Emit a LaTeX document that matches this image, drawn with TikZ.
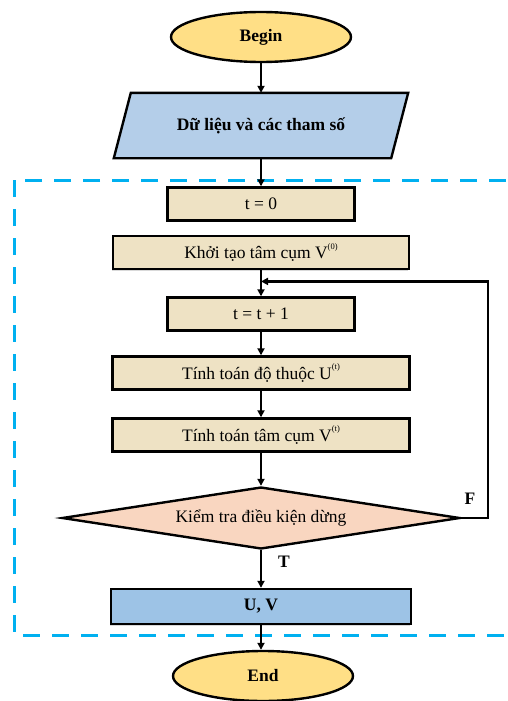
\documentclass[tikz,border=0pt]{standalone}
\usepackage{fontspec}
\setmainfont{Liberation Serif}
\usetikzlibrary{shapes.geometric,arrows.meta,calc,shadows}
\definecolor{termfill}{RGB}{255,223,134}
\definecolor{iofill}{RGB}{180,206,233}
\definecolor{stepfill}{RGB}{238,226,196}
\definecolor{testfill}{RGB}{249,214,192}
\definecolor{outfill}{RGB}{157,195,230}
\definecolor{framecol}{RGB}{0,176,240}
\newcommand{\itsup}[1]{\raisebox{1.2ex}{\fontsize{8.5}{9}\selectfont(#1)}}

\begin{document}
\begin{tikzpicture}[x=1pt,y=-1pt,
    every node/.style={font=\fontsize{17.5}{20}\selectfont},
    frame/.style={draw,line width=2.4pt},
    term/.style={frame,ellipse,fill=termfill,minimum width=180pt,minimum height=50pt,inner sep=0pt,font=\fontsize{17.5}{20}\selectfont\bfseries},
    iobox/.style={rectangle,minimum width=294pt,minimum height=65pt,inner sep=0pt,font=\fontsize{17.5}{20}\selectfont\bfseries},
    stepbox/.style={frame,rectangle,fill=stepfill,minimum height=33pt,inner sep=0pt,drop shadow={shadow xshift=-1pt,shadow yshift=-1.5pt,opacity=.3}},
    testbox/.style={frame,diamond,fill=testfill,minimum width=398pt,minimum height=62pt,aspect=6.4,inner sep=0pt},
    outbox/.style={frame,rectangle,fill=outfill,minimum width=300pt,minimum height=35pt,inner sep=0pt,font=\fontsize{17.5}{20}\selectfont\bfseries,drop shadow={shadow xshift=-1pt,shadow yshift=-1.5pt,opacity=.3}},
    flow/.style={line width=2.2pt,-{Triangle[length=7pt,width=7pt]}},
    lbl/.style={font=\fontsize{17.5}{20}\selectfont\bfseries}]
    
    \useasboundingbox (0,0) rectangle (508,701);
    
    %Dashed frame
    \draw[framecol,line width=3pt,dash pattern=on 17pt off 12pt] (14,180) rectangle (530,635);
    
    %Terminals and input
    \node[term] (begin) at (261,37) {Begin};
    \path (261,125.5) node[iobox] (input) {};
    \filldraw[frame,fill=iofill] ($(input.north west)+(17,0)$) -- (input.north east)
        -- ($(input.south east)+(-17,0)$) -- (input.south west) -- cycle;
    \node[iobox] at (input.center) {Dữ liệu và các tham số};
    
    %Steps
    \node[stepbox,minimum width=187pt] (init) at (261,204) {t = 0};
    \node[stepbox,minimum width=296pt] (initV) at (261,252.5) {Khởi tạo tâm cụm V\itsup{0}};
    \node[stepbox,minimum width=187pt] (inc) at (261,314) {t = t + 1};
    \node[stepbox,minimum width=297pt] (calcU) at (261,373) {Tính toán độ thuộc U\itsup{t}};
    \node[stepbox,minimum width=297pt] (calcV) at (261,435) {Tính toán tâm cụm V\itsup{t}};
    
    %Test
    \node[testbox] (check) at (261,518) {Kiểm tra điều kiện dừng};
    \node[lbl] (lblF) at (470,499) {F};
    \node[lbl] (lblT) at (284,562) {T};
    
    %Result
    \node[outbox] (result) at (261,606.5) {U, V};
    \node[term] (end) at (263,676) {End};
    
    %Arrows
    \coordinate (back) at ($(initV.south)!.43!(inc.north)$);
    \draw[flow] (begin) -- (input);
    \draw[flow] (input) -- (init);
    \draw[flow] (initV) -- (inc);
    \draw[flow] (inc) -- (calcU);
    \draw[flow] (calcU) -- (calcV);
    \draw[flow] (calcV) -- (check);
    \draw[flow] (check) -- (result);
    \draw[flow] (result) -- (result.south |- end.north);
    \draw[flow] (check.east) -- ++(27,0) |- (back);
\end{tikzpicture}
\end{document}
